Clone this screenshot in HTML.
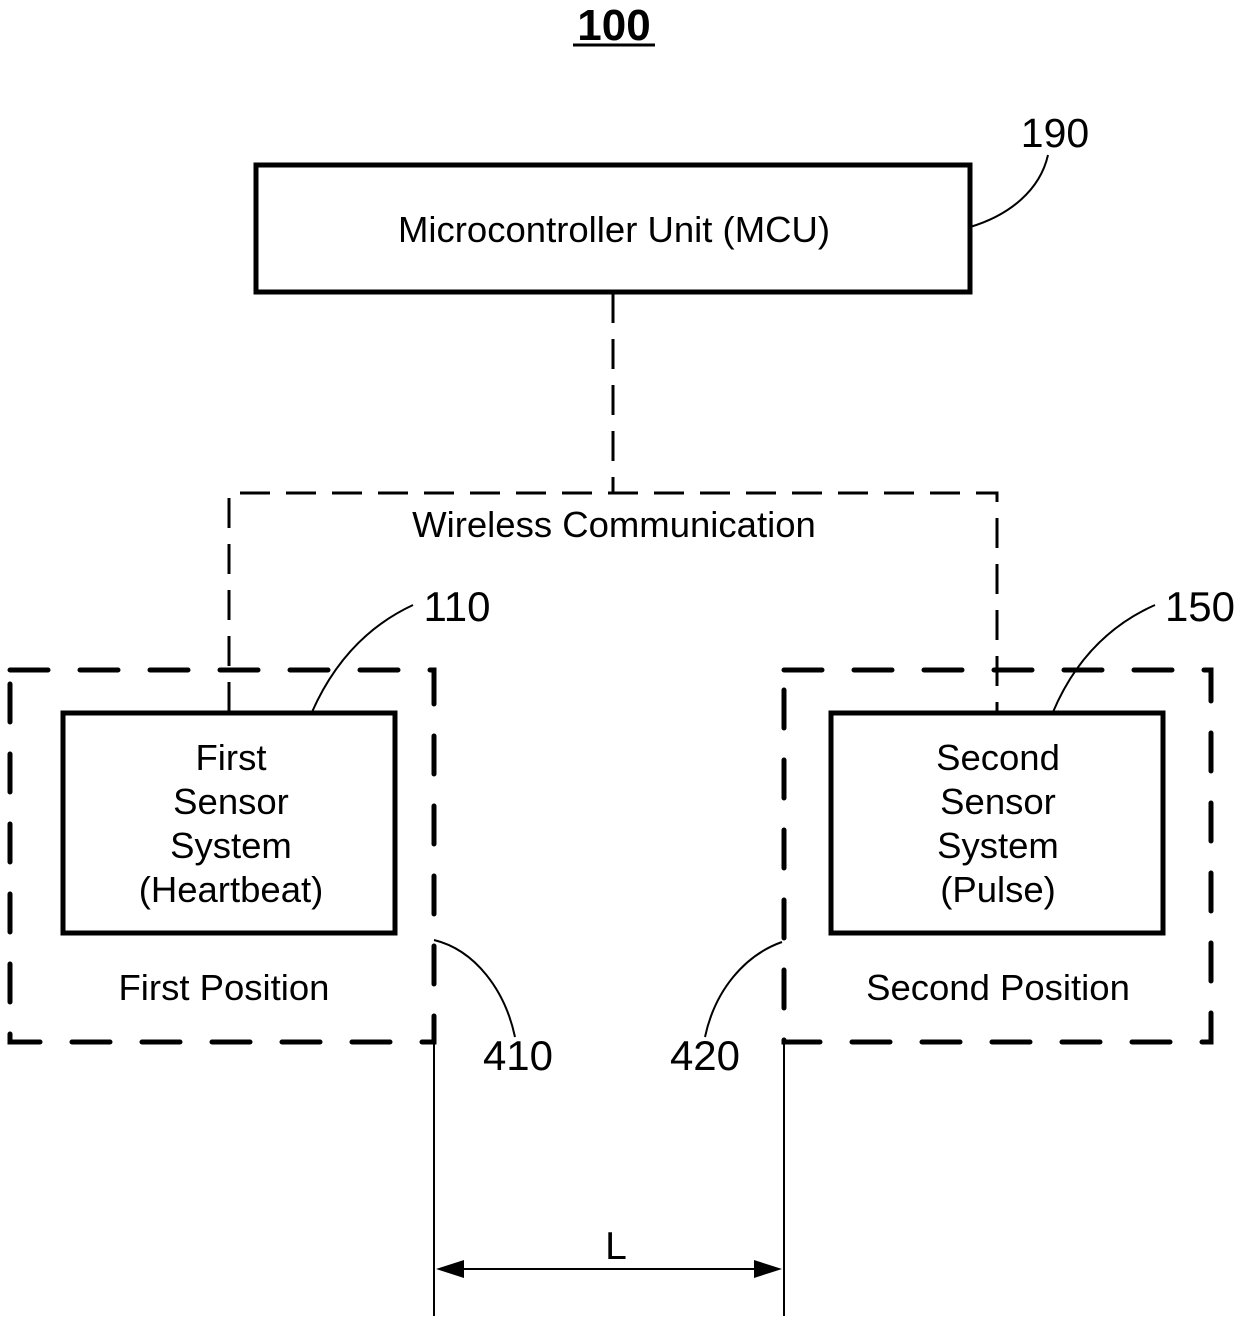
<!DOCTYPE html>
<html><head><style>body{margin:0;background:#fff}svg{display:block}text{font-family:"Liberation Sans",sans-serif;fill:#000}</style></head><body>
<svg width="1240" height="1324" viewBox="0 0 1240 1324" xmlns="http://www.w3.org/2000/svg">
<text x="614" y="40" font-size="44" font-weight="bold" text-anchor="middle">100</text>
<line x1="573" y1="45" x2="655" y2="45" stroke="#000" stroke-width="3"/>
<rect x="256" y="165" width="714" height="127" fill="none" stroke="#000" stroke-width="5"/>
<text x="614" y="242" font-size="36.5" text-anchor="middle">Microcontroller Unit (MCU)</text>
<text x="1055" y="147" font-size="41" text-anchor="middle">190</text>
<path d="M970,227 C1010,215 1040,190 1048,155" fill="none" stroke="#000" stroke-width="2"/>
<g fill="none" stroke="#000" stroke-width="3" stroke-dasharray="30,16">
<path d="M613,293 V493"/>
<path d="M229,712 V493 H997 V712"/>
</g>
<text x="614" y="537" font-size="36.5" text-anchor="middle">Wireless Communication</text>
<g fill="none" stroke="#000" stroke-width="5" stroke-dasharray="38,32" stroke-linecap="round">
<rect x="10" y="670" width="424" height="372"/>
<rect x="784" y="670" width="427" height="372"/>
</g>
<rect x="63" y="713" width="332" height="220" fill="none" stroke="#000" stroke-width="5"/>
<rect x="831" y="713" width="332" height="220" fill="none" stroke="#000" stroke-width="5"/>
<g font-size="36.5" text-anchor="middle">
<text x="231" y="770">First</text><text x="231" y="814">Sensor</text><text x="231" y="858">System</text><text x="231" y="902">(Heartbeat)</text>
<text x="998" y="770">Second</text><text x="998" y="814">Sensor</text><text x="998" y="858">System</text><text x="998" y="902">(Pulse)</text>
<text x="224" y="1000">First Position</text><text x="998" y="1000">Second Position</text>
</g>
<g font-size="42" text-anchor="middle">
<text x="457" y="621">110</text><text x="1200" y="621">150</text>
<text x="518" y="1070">410</text><text x="705" y="1070">420</text>
</g>
<g fill="none" stroke="#000" stroke-width="2">
<path d="M312,712 C335,660 370,625 413,605"/>
<path d="M1053,712 C1075,660 1110,625 1155,605"/>
<path d="M434,940 C475,950 505,990 515,1037"/>
<path d="M782,942 C745,955 715,990 705,1037"/>
<path d="M434,1042 V1316 M784,1042 V1316 M460,1269 H758"/>
</g>
<polygon points="436,1269 464,1260 464,1278" fill="#000"/>
<polygon points="782,1269 754,1260 754,1278" fill="#000"/>
<text x="616" y="1259" font-size="39" text-anchor="middle">L</text>
</svg>
</body></html>
